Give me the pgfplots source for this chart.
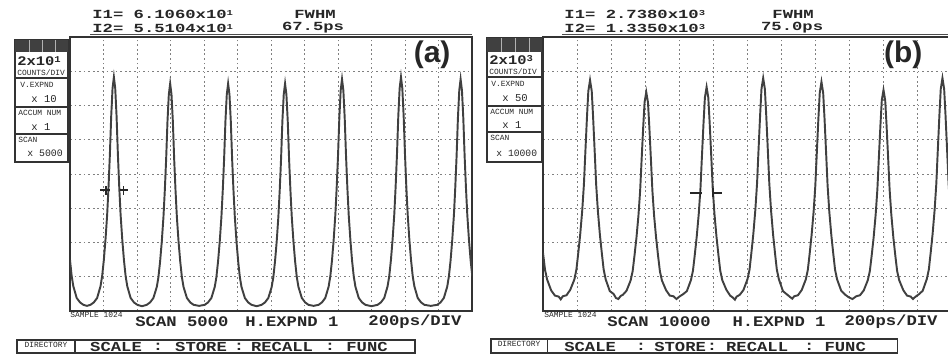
\documentclass[border=0pt]{standalone}
\usepackage{pgfplots}
\pgfplotsset{compat=1.18}
\usepackage{fontspec}
\setmainfont{Liberation Sans}
\setmonofont{Liberation Mono}
\newcommand{\osc}{\ttfamily\bfseries\fontsize{9.8}{10}\selectfont}
\newcommand{\tinyosc}{\ttfamily\fontsize{4.5}{5}\selectfont}
\newcommand{\oscsup}[1]{\raisebox{0.45ex}{\fontsize{6}{6}\selectfont #1}}
\definecolor{trace}{gray}{0.25}
\definecolor{ink}{gray}{0.15}

\pgfplotsset{scope/.style={
  anchor=south west, scale only axis, height=5.48cm,
  xmin=0, xmax=12, ymin=0, ymax=8,
  xtick={1,...,11}, ytick={1,...,7},
  xticklabel=\empty, yticklabel=\empty,
  major tick length=0pt,
  grid=major,
  major grid style={black!50, line width=0.5pt, dash pattern=on 1pt off 1.6pt},
  axis line style={black!80, line width=0.9pt},
}}

\begin{document}
\begin{tikzpicture}
\useasboundingbox (0,0) rectangle (18.96cm,-7.08cm);

% ---------------- panel (a)
\begin{axis}[scope, at={(1.40cm,-6.22cm)}, width=8.04cm]
\addplot[trace, line width=1.1pt] coordinates {
(0.00,1.49) (0.05,1.02) (0.10,0.72) (0.20,0.38) (0.30,0.25) (0.40,0.18) (0.505,0.15)
(0.61,0.18) (0.71,0.25) (0.81,0.38) (0.91,0.72) (0.96,1.02) (1.01,1.49) (1.06,2.09) (1.11,2.82) (1.15,3.62) (1.19,4.56) (1.23,5.69) (1.27,6.50) (1.31,6.83)
(1.35,6.50) (1.39,5.69) (1.43,4.56) (1.47,3.62) (1.51,2.82) (1.56,2.09) (1.61,1.49) (1.66,1.02) (1.71,0.72) (1.81,0.38) (1.91,0.25) (2.01,0.18) (2.15,0.14)
(2.29,0.18) (2.39,0.25) (2.49,0.38) (2.59,0.70) (2.64,0.99) (2.69,1.45) (2.74,2.03) (2.79,2.75) (2.83,3.52) (2.87,4.43) (2.91,5.54) (2.95,6.32) (2.99,6.64)
(3.03,6.32) (3.07,5.54) (3.11,4.43) (3.15,3.52) (3.19,2.75) (3.24,2.03) (3.29,1.45) (3.34,0.99) (3.39,0.70) (3.49,0.38) (3.59,0.25) (3.69,0.18) (3.855,0.15)
(4.02,0.18) (4.12,0.25) (4.22,0.38) (4.32,0.70) (4.37,0.99) (4.42,1.45) (4.47,2.03) (4.52,2.75) (4.56,3.52) (4.60,4.43) (4.64,5.54) (4.68,6.32) (4.72,6.64)
(4.76,6.32) (4.80,5.54) (4.84,4.43) (4.88,3.52) (4.92,2.75) (4.97,2.03) (5.02,1.45) (5.07,0.99) (5.12,0.70) (5.22,0.38) (5.32,0.25) (5.42,0.18) (5.57,0.14)
(5.72,0.18) (5.82,0.25) (5.92,0.38) (6.02,0.70) (6.07,0.99) (6.12,1.45) (6.17,2.03) (6.22,2.75) (6.26,3.52) (6.30,4.43) (6.34,5.54) (6.38,6.32) (6.42,6.64)
(6.46,6.32) (6.50,5.54) (6.54,4.43) (6.58,3.52) (6.62,2.75) (6.67,2.03) (6.72,1.45) (6.77,0.99) (6.82,0.70) (6.92,0.38) (7.02,0.25) (7.12,0.18) (7.27,0.15)
(7.42,0.18) (7.52,0.25) (7.62,0.38) (7.72,0.71) (7.77,1.01) (7.82,1.47) (7.87,2.07) (7.92,2.80) (7.96,3.59) (8.00,4.52) (8.04,5.64) (8.08,6.44) (8.12,6.77)
(8.16,6.44) (8.20,5.64) (8.24,4.52) (8.28,3.59) (8.32,2.80) (8.37,2.07) (8.42,1.47) (8.47,1.01) (8.52,0.71) (8.62,0.38) (8.72,0.25) (8.82,0.18) (9.00,0.14)
(9.18,0.18) (9.28,0.25) (9.38,0.38) (9.48,0.72) (9.53,1.02) (9.58,1.49) (9.63,2.09) (9.68,2.82) (9.72,3.62) (9.76,4.56) (9.80,5.69) (9.84,6.50) (9.88,6.83)
(9.92,6.50) (9.96,5.69) (10.00,4.56) (10.04,3.62) (10.08,2.82) (10.13,2.09) (10.18,1.49) (10.23,1.02) (10.28,0.72) (10.38,0.38) (10.48,0.25) (10.58,0.18) (10.77,0.15)
(10.96,0.18) (11.06,0.25) (11.16,0.38) (11.26,0.71) (11.31,1.01) (11.36,1.47) (11.41,2.07) (11.46,2.80) (11.50,3.59) (11.54,4.52) (11.58,5.64) (11.62,6.44) (11.66,6.77)
(11.70,6.44) (11.74,5.64) (11.78,4.52) (11.82,3.59) (11.86,2.80) (11.91,2.07) (11.96,1.47) (12.01,1.01)
};
% FWHM cursors
\addplot[ink, line width=1.4pt] coordinates {(0.90,3.53) (1.19,3.53)};
\addplot[ink, line width=1.4pt] coordinates {(1.49,3.53) (1.73,3.53)};
\addplot[ink, line width=0.8pt] coordinates {(1.08,3.40) (1.08,3.66)};
\addplot[ink, line width=0.8pt] coordinates {(1.60,3.40) (1.60,3.66)};
\end{axis}

% ---------------- panel (b)
\begin{axis}[scope, at={(10.86cm,-6.22cm)}, width=8.18cm]
\addplot[trace, line width=1.1pt] coordinates {
(0.00,1.70) (0.06,1.20) (0.12,0.92) (0.24,0.60) (0.35,0.45) (0.46,0.42) (0.52,0.34)
(0.58,0.43) (0.69,0.46) (0.80,0.62) (0.92,0.92) (0.98,1.21) (1.03,1.65) (1.09,2.22) (1.15,2.92) (1.20,3.69) (1.24,4.58) (1.29,5.66) (1.33,6.42) (1.38,6.74)
(1.43,6.42) (1.47,5.66) (1.52,4.58) (1.56,3.69) (1.61,2.92) (1.67,2.22) (1.73,1.65) (1.78,1.21) (1.84,0.92) (1.96,0.58) (2.07,0.50) (2.14,0.38) (2.21,0.35)
(2.28,0.44) (2.34,0.47) (2.45,0.59) (2.57,0.89) (2.63,1.16) (2.68,1.58) (2.74,2.12) (2.80,2.78) (2.85,3.51) (2.89,4.35) (2.94,5.37) (2.98,6.09) (3.03,6.39)
(3.08,6.09) (3.12,5.37) (3.17,4.35) (3.21,3.51) (3.26,2.78) (3.32,2.12) (3.38,1.58) (3.43,1.16) (3.49,0.89) (3.61,0.61) (3.72,0.45) (3.83,0.43) (3.915,0.35)
(4.00,0.42) (4.11,0.49) (4.22,0.58) (4.34,0.90) (4.40,1.18) (4.45,1.61) (4.51,2.17) (4.57,2.84) (4.62,3.58) (4.66,4.45) (4.71,5.49) (4.75,6.23) (4.80,6.54)
(4.85,6.23) (4.89,5.49) (4.94,4.45) (4.98,3.58) (5.03,2.84) (5.09,2.17) (5.15,1.61) (5.20,1.18) (5.26,0.90) (5.38,0.62) (5.49,0.45) (5.56,0.40) (5.63,0.33)
(5.68,0.42) (5.77,0.47) (5.88,0.61) (6.00,0.93) (6.06,1.21) (6.11,1.66) (6.17,2.24) (6.23,2.95) (6.28,3.72) (6.32,4.62) (6.37,5.71) (6.41,6.48) (6.46,6.80)
(6.51,6.48) (6.55,5.71) (6.60,4.62) (6.64,3.72) (6.69,2.95) (6.75,2.24) (6.81,1.66) (6.86,1.21) (6.92,0.93) (7.04,0.58) (7.15,0.49) (7.26,0.40) (7.315,0.36)
(7.37,0.43) (7.48,0.46) (7.59,0.61) (7.71,0.92) (7.77,1.20) (7.82,1.64) (7.88,2.21) (7.94,2.90) (7.99,3.66) (8.03,4.54) (8.08,5.62) (8.12,6.37) (8.17,6.69)
(8.22,6.37) (8.26,5.62) (8.31,4.54) (8.35,3.66) (8.40,2.90) (8.46,2.21) (8.52,1.64) (8.57,1.20) (8.63,0.92) (8.75,0.59) (8.86,0.48) (8.97,0.40) (9.08,0.35)
(9.19,0.43) (9.30,0.46) (9.41,0.60) (9.53,0.90) (9.59,1.17) (9.64,1.59) (9.70,2.14) (9.76,2.81) (9.81,3.54) (9.85,4.39) (9.90,5.42) (9.94,6.15) (9.99,6.45)
(10.04,6.15) (10.08,5.42) (10.13,4.39) (10.17,3.54) (10.22,2.81) (10.28,2.14) (10.34,1.59) (10.39,1.17) (10.45,0.90) (10.57,0.61) (10.68,0.45) (10.79,0.42) (10.855,0.35)
(10.92,0.41) (11.03,0.49) (11.14,0.59) (11.26,0.93) (11.32,1.21) (11.37,1.66) (11.43,2.24) (11.49,2.95) (11.54,3.72) (11.58,4.62) (11.63,5.71) (11.67,6.48) (11.72,6.80)
(11.77,6.48) (11.81,5.71) (11.86,4.62) (11.90,3.72) (11.95,2.95) (12.01,2.24)
};
\addplot[ink, line width=1.4pt] coordinates {(4.31,3.45) (4.66,3.45)};
\addplot[ink, line width=1.4pt] coordinates {(4.96,3.45) (5.25,3.45)};
\addplot[ink, line width=0.8pt] coordinates {(4.62,3.32) (4.62,3.58)};
\addplot[ink, line width=0.8pt] coordinates {(4.99,3.32) (4.99,3.58)};
\end{axis}

% ---------------- decorations (pixel units, y downwards)
\begin{scope}[x=0.02cm, y=-0.02cm, every node/.style={inner sep=0pt, text=ink}]
  % headers (a)
  \node[anchor=west, yscale=0.72] at (92,14) {\osc I1= 6.1060x10\oscsup{1}};
  \node[anchor=west, yscale=0.72] at (92,28) {\osc I2= 5.5104x10\oscsup{1}};
  \node[yscale=0.72] at (315,14) {\osc FWHM};
  \node[yscale=0.72] at (313,28) {\osc 67.5ps};
  \draw[black!70, line width=0.6pt] (90,34.5) -- (472,34.5);
  % headers (b)
  \node[anchor=west, yscale=0.72] at (564,14) {\osc I1= 2.7380x10\oscsup{3}};
  \node[anchor=west, yscale=0.72] at (564,28) {\osc I2= 1.3350x10\oscsup{3}};
  \node[yscale=0.72] at (793,14) {\osc FWHM};
  \node[yscale=0.72] at (792,28) {\osc 75.0ps};
  \draw[black!70, line width=0.6pt] (562,34.5) -- (948,34.5);

  % panel labels
  \node at (432,55) {\bfseries\fontsize{17}{18}\selectfont (a)};
  \node at (903,55) {\bfseries\fontsize{17}{18}\selectfont (b)};

  % left info box (a)
  \draw[black!80, line width=0.7pt] (15,40) rectangle (68,162);
  \fill[black!75] (15,40) rectangle (68,52);
  \foreach \u in {29,42,55} \draw[white!70!black, line width=0.4pt] (\u,40) -- (\u,52);
  \node[anchor=west, yscale=0.85] at (17,61) {\ttfamily\bfseries\fontsize{8.8}{9}\selectfont 2x10\oscsup{1}};
  \node[anchor=west] at (17,73) {\tinyosc COUNTS/DIV};
  \draw[black!80, line width=0.6pt] (15,78) -- (68,78) (15,107) -- (68,107) (15,134) -- (68,134);
  \node[anchor=west] at (20,85) {\tinyosc V.EXPND};
  \node[anchor=west] at (31,99) {\ttfamily\fontsize{6}{6}\selectfont x 10};
  \node[anchor=west] at (18,113) {\tinyosc ACCUM NUM};
  \node[anchor=west] at (31,127) {\ttfamily\fontsize{6}{6}\selectfont x 1};
  \node[anchor=west] at (18,140) {\tinyosc SCAN};
  \node[anchor=west] at (27,153) {\ttfamily\fontsize{5.6}{6}\selectfont x 5000};

  % left info box (b)
  \draw[black!80, line width=0.7pt] (487,38) rectangle (542,162);
  \fill[black!75] (487,38) rectangle (542,52);
  \foreach \u in {501,515,529} \draw[white!70!black, line width=0.4pt] (\u,38) -- (\u,52);
  \node[anchor=west, yscale=0.85] at (489,60) {\ttfamily\bfseries\fontsize{8.8}{9}\selectfont 2x10\oscsup{3}};
  \node[anchor=west] at (489,72) {\tinyosc COUNTS/DIV};
  \draw[black!80, line width=0.6pt] (487,77) -- (542,77) (487,106) -- (542,106) (487,132) -- (542,132);
  \node[anchor=west] at (491,84) {\tinyosc V.EXPND};
  \node[anchor=west] at (502,98) {\ttfamily\fontsize{6}{6}\selectfont x 50};
  \node[anchor=west] at (490,112) {\tinyosc ACCUM NUM};
  \node[anchor=west] at (502,125) {\ttfamily\fontsize{6}{6}\selectfont x 1};
  \node[anchor=west] at (490,138) {\tinyosc SCAN};
  \node[anchor=west] at (496,153) {\ttfamily\fontsize{5.5}{6}\selectfont x 10000};

  % bottom status lines
  \node[anchor=west] at (70,315) {\tinyosc SAMPLE 1024};
  \node[anchor=west, yscale=0.85] at (135,322) {\osc SCAN 5000};
  \node[anchor=west, yscale=0.85] at (245,322) {\osc H.EXPND 1};
  \node[anchor=west, yscale=0.85] at (368,322) {\osc 200ps/DIV};
  \node[anchor=west] at (544,315) {\tinyosc SAMPLE 1024};
  \node[anchor=west, yscale=0.85] at (607,322) {\osc SCAN 10000};
  \node[anchor=west, yscale=0.85] at (732,322) {\osc H.EXPND 1};
  \node[anchor=west, yscale=0.85] at (844,322) {\osc 200ps/DIV};

  % menu bars
  \draw[black!80, line width=0.7pt] (17,340) rectangle (415,353);
  \draw[black!80, line width=0.6pt] (75,340) -- (75,353);
  \node at (46,345) {\tinyosc DIRECTORY};
  \node[yscale=0.8] at (116,347) {\osc SCALE};
  \node[yscale=0.8] at (158,347) {\osc :};
  \node[yscale=0.8] at (201,347) {\osc STORE};
  \node[yscale=0.8] at (239,347) {\osc :};
  \node[yscale=0.8] at (282,347) {\osc RECALL};
  \node[yscale=0.8] at (330,347) {\osc :};
  \node[yscale=0.8] at (367,347) {\osc FUNC};

  \draw[black!80, line width=0.7pt] (491,339) rectangle (897,353);
  \draw[black!80, line width=0.6pt] (547,339) -- (547,353);
  \node at (519,344) {\tinyosc DIRECTORY};
  \node[yscale=0.8] at (590,347) {\osc SCALE};
  \node[yscale=0.8] at (641,347) {\osc :};
  \node[yscale=0.8] at (680,347) {\osc STORE};
  \node[yscale=0.8] at (712,347) {\osc :};
  \node[yscale=0.8] at (757,347) {\osc RECALL};
  \node[yscale=0.8] at (809,347) {\osc :};
  \node[yscale=0.8] at (845,347) {\osc FUNC};
\end{scope}
\end{tikzpicture}
\end{document}
